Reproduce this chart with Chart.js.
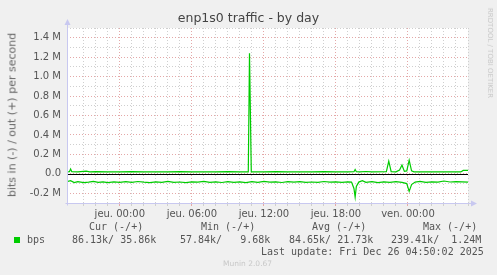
<!DOCTYPE html>
<html lang="fr">
<head>
  <meta charset="UTF-8">
  <title>enp1s0 traffic - by day</title>
  <script src="https://cdn.jsdelivr.net/npm/chart.js"></script>
  <style>
    body {
      margin: 0;
      background: #f0f0f0;
      width: 497px;
      height: 275px;
      overflow: hidden;
      position: relative;
      font-family: 'DejaVu Sans', sans-serif;
    }
    #graph { position: absolute; left: 0; top: 0; }
    .txt { position: absolute; white-space: pre; color: #555; }
    .title { left: 0; width: 497px; top: 10px; text-align: center; font-size: 12.5px; color: #444; }
    .ytitle { left: 12px; top: 115px; font-size: 11px; color: #666; transform: translate(-50%, -50%) rotate(-90deg); }
    .rrd { left: 490px; top: 53px; font-size: 7px; color: #c8c8c8; transform: translate(-50%, -50%) rotate(90deg); }
    .mono { font-family: 'DejaVu Sans Mono', monospace; font-size: 10px; color: #555; }
    .swatch { position: absolute; left: 14px; top: 237px; width: 6px; height: 6px; background: #00cc00; }
    .munin { font-size: 7.5px; color: #c8c8c8; left: 223px; top: 259px; }
  </style>
</head>
<body>
  <canvas id="graph" width="497" height="275"></canvas>
  <div class="txt title">enp1s0 traffic - by day</div>
  <div class="txt ytitle">bits in (-) / out (+) per second</div>
  <div class="txt rrd">RRDTOOL / TOBI OETIKER</div>

  <div class="txt mono" style="left:89px;top:221px">Cur (-/+)</div>
  <div class="txt mono" style="left:201px;top:221px">Min (-/+)</div>
  <div class="txt mono" style="left:312px;top:221px">Avg (-/+)</div>
  <div class="txt mono" style="left:423px;top:221px">Max (-/+)</div>
  <div class="swatch"></div>
  <div class="txt mono" style="left:27px;top:234px">bps</div>
  <div class="txt mono" style="left:72px;top:234px">86.13k/ 35.86k</div>
  <div class="txt mono" style="left:180px;top:234px">57.84k/   9.68k</div>
  <div class="txt mono" style="left:289px;top:234px">84.65k/ 21.73k</div>
  <div class="txt mono" style="left:391px;top:234px">239.41k/  1.24M</div>
  <div class="txt mono" style="left:261px;top:246px">Last update: Fri Dec 26 04:50:02 2025</div>
  <div class="txt munin">Munin 2.0.67</div>

  <script>
    // heures relatives à jeu. 00:00, valeurs en M bits/s
    const xLabels = { 0: 'jeu. 00:00', 6: 'jeu. 06:00', 12: 'jeu. 12:00', 18: 'jeu. 18:00', 24: 'ven. 00:00' };
    const yTicks = [-0.3, -0.2, -0.1, 0, 0.1, 0.2, 0.3, 0.4, 0.5, 0.6, 0.7, 0.8, 0.9, 1.0, 1.1, 1.2, 1.3, 1.4, 1.5];
    const yLabels = { '-0.2': '-0.2 M', '0': '0.0', '0.2': '0.2 M', '0.4': '0.4 M', '0.6': '0.6 M', '0.8': '0.8 M',
      '1': '1.0 M', '1.2': '1.2 M', '1.4': '1.4 M' };

    const outTimes = [-4.5, -4.2, -4.1, -4.0, -3.5, -2.8, -2.5, -2, -1, 0, 1, 2, 3, 4, 5, 6, 7, 8, 9, 10,
      10.7, 10.8, 10.95, 11.5, 12, 13, 14, 15, 16, 17, 18, 19, 19.5, 19.6, 19.7, 20, 20.5, 21,
      22.2, 22.4, 22.6, 23, 23.3, 23.5, 23.7, 23.9, 24.1, 24.3, 24.5, 25, 26, 27, 28, 28.4, 28.6, 29];
    const outVals = [0.02, 0.022, 0.05, 0.022, 0.02, 0.028, 0.02, 0.022, 0.02, 0.021, 0.022, 0.02, 0.021, 0.02, 0.022, 0.02, 0.021, 0.02, 0.022, 0.02,
      0.02, 1.24, 0.02, 0.02, 0.021, 0.022, 0.02, 0.021, 0.02, 0.022, 0.02, 0.021, 0.022, 0.045, 0.022, 0.02, 0.024, 0.02,
      0.022, 0.13, 0.022, 0.02, 0.04, 0.09, 0.025, 0.03, 0.14, 0.03, 0.02, 0.021, 0.02, 0.021, 0.02, 0.02, 0.035, 0.035];

    const inTimes = [-4.5, -4.1, -3.8, -3.5, -3.0, -2.6, -2.2, -1.8, -1.4, -1.0, -0.5, 0, 0.5, 1, 1.5, 2, 2.5, 3, 3.5, 4,
      4.5, 5, 5.5, 6, 6.5, 7, 7.5, 8, 8.5, 9, 9.5, 10, 10.5, 11, 11.5, 12, 12.5, 13, 13.5, 14,
      14.5, 15, 15.5, 16, 16.5, 17, 17.5, 18, 18.5, 19, 19.3, 19.5, 19.6, 19.7, 19.9, 20.2, 20.5, 21, 21.5, 22,
      22.5, 23, 23.5, 23.9, 24.1, 24.3, 24.6, 25, 25.5, 26, 26.5, 27, 27.5, 28, 28.5, 29];
    const inVals = [-0.085, -0.07, -0.09, -0.08, -0.09, -0.085, -0.078, -0.088, -0.082, -0.09, -0.083, -0.087, -0.08, -0.088, -0.079, -0.086, -0.09, -0.082, -0.087, -0.078,
      -0.088, -0.084, -0.09, -0.083, -0.086, -0.077, -0.088, -0.082, -0.089, -0.08, -0.087, -0.083, -0.09, -0.081, -0.087, -0.078, -0.086, -0.083, -0.089, -0.081,
      -0.086, -0.08, -0.087, -0.084, -0.088, -0.079, -0.086, -0.083, -0.088, -0.082, -0.085, -0.15, -0.24, -0.13, -0.085, -0.07, -0.088, -0.08, -0.09, -0.082,
      -0.087, -0.08, -0.088, -0.1, -0.18, -0.11, -0.085, -0.078, -0.087, -0.082, -0.086, -0.074, -0.084, -0.08, -0.083, -0.086];

    const minorGrid = '#cfcfcf';
    const majorGrid = '#e4a8a8';
    const axisCol = '#c8c8f0';

    function yKey(v) {
      return String(Math.round(v * 10) / 10);
    }

    const munin = {
      id: 'munin',
      beforeDraw(chart) {
        const a = chart.chartArea, ctx = chart.ctx;
        ctx.save();
        ctx.fillStyle = '#ffffff';
        ctx.fillRect(a.left, a.top, a.right - a.left, a.bottom - a.top);
        ctx.restore();
      },
      beforeDatasetsDraw(chart) {
        const a = chart.chartArea, ctx = chart.ctx;
        const y0 = Math.round(chart.scales.y.getPixelForValue(0)) + 0.5;
        ctx.save();
        ctx.strokeStyle = '#000';
        ctx.lineWidth = 1;
        ctx.beginPath();
        ctx.moveTo(a.left, y0);
        ctx.lineTo(a.right, y0);
        ctx.stroke();
        ctx.restore();
      },
      afterDraw(chart) {
        const a = chart.chartArea, ctx = chart.ctx;
        const l = Math.round(a.left) + 0.5, b = Math.round(a.bottom) + 0.5;
        ctx.save();
        ctx.strokeStyle = axisCol;
        ctx.fillStyle = axisCol;
        ctx.lineWidth = 1;
        ctx.beginPath();
        ctx.moveTo(l, b + 2);
        ctx.lineTo(l, a.top - 4);
        ctx.moveTo(l - 2, b);
        ctx.lineTo(a.right + 4, b);
        ctx.stroke();
        ctx.beginPath();
        ctx.moveTo(l - 3, a.top - 3);
        ctx.lineTo(l + 3, a.top - 3);
        ctx.lineTo(l, a.top - 9);
        ctx.closePath();
        ctx.fill();
        ctx.beginPath();
        ctx.moveTo(a.right + 3, b - 3);
        ctx.lineTo(a.right + 3, b + 3);
        ctx.lineTo(a.right + 9, b);
        ctx.closePath();
        ctx.fill();
        ctx.restore();
      }
    };

    new Chart(document.getElementById('graph'), {
      type: 'line',
      data: {
        datasets: [{
          label: 'out',
          data: outTimes.map((t, i) => ({ x: t, y: outVals[i] })),
          borderColor: '#00cc00',
          borderWidth: 1.2,
          pointRadius: 0,
          tension: 0
        }, {
          label: 'in',
          data: inTimes.map((t, i) => ({ x: t, y: inVals[i] })),
          borderColor: '#00cc00',
          borderWidth: 1.2,
          pointRadius: 0,
          tension: 0
        }]
      },
      options: {
        responsive: false,
        animation: false,
        devicePixelRatio: 1,
        layout: { padding: { left: 0, top: 28, right: 29, bottom: 52 } },
        plugins: { legend: { display: false }, tooltip: { enabled: false } },
        scales: {
          x: {
            type: 'linear',
            min: -4.4,
            max: 29,
            afterFit: s => { s.height = 20; },
            border: { display: false, dash: [1, 2] },
            grid: {
              color: c => Number.isInteger(c.tick.value) ? (c.tick.value % 6 === 0 ? majorGrid : minorGrid) : 'rgba(0,0,0,0)',
              tickColor: c => Number.isInteger(c.tick.value) ? (c.tick.value % 6 === 0 ? majorGrid : minorGrid) : 'rgba(0,0,0,0)',
              tickLength: 3,
              lineWidth: 1
            },
            ticks: {
              stepSize: 1,
              autoSkip: false,
              maxRotation: 0,
              padding: 2,
              color: '#555',
              font: { family: 'DejaVu Sans', size: 10 },
              callback: v => xLabels[v] !== undefined ? xLabels[v] : ''
            }
          },
          y: {
            type: 'linear',
            min: -0.3,
            max: 1.5,
            afterBuildTicks: s => { s.ticks = yTicks.map(v => ({ value: v })); },
            afterFit: s => { s.width = 67; },
            border: { display: false, dash: [1, 2] },
            grid: {
              color: c => yLabels[yKey(c.tick.value)] !== undefined ? majorGrid : minorGrid,
              drawTicks: false,
              lineWidth: 1
            },
            ticks: {
              autoSkip: false,
              padding: 6,
              color: '#555',
              font: { family: 'DejaVu Sans', size: 10 },
              callback: v => yLabels[yKey(v)] || ''
            }
          }
        }
      },
      plugins: [munin]
    });
  </script>
</body>
</html>
